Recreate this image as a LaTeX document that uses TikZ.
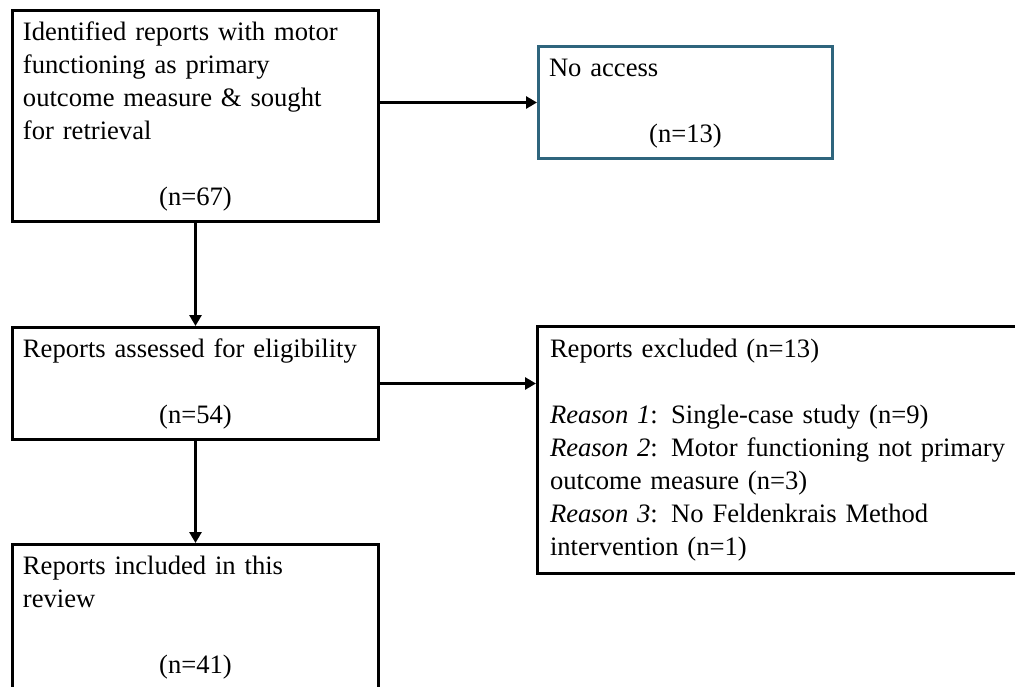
\documentclass[tikz,border=0pt]{standalone}
\usepackage{fontspec}
\setmainfont{Liberation Serif}
\usepackage{tikz}
\usetikzlibrary{arrows.meta}
\definecolor{accessteal}{RGB}{47,101,125}
\newcommand\boxfont{\fontsize{26.6}{33}\selectfont\spaceskip=6.6pt\relax\xspaceskip=6.6pt\relax}

\begin{document}
\begin{tikzpicture}[
    x=1pt, y=-1pt,
    box/.style={rectangle, draw=black, line width=3pt, anchor=north west, align=left,
        inner xsep=10.5pt, inner ysep=6.5pt, font=\boxfont},
    tealbox/.style={box, draw=accessteal},
    flow/.style={draw, line width=3pt, -{Triangle[length=11pt,width=12pt]}}
]

\useasboundingbox (0,0) rectangle (1015,687);
\clip (0,0) rectangle (1015,687);

% Define boxes
\node[box, text width=345pt] (identified) at (11,9) {\strut Identified reports with motor\\ functioning as primary\\ outcome measure \& sought\\ for retrieval\\[33pt] \hspace*{\fill}(n=67)\hspace*{\fill}\strut};
\node[tealbox, text width=273pt] (noaccess) at (537,45) {\strut No access\\[33pt] \hspace*{\fill}(n=13)\hspace*{\fill}\strut};
\node[box, text width=345pt] (assessed) at (11,326) {\strut Reports assessed for eligibility\\[33pt] \hspace*{\fill}(n=54)\hspace*{\fill}\strut};
\node[box, text width=470pt, inner xsep=12.5pt, inner ysep=8pt] (excluded) at (536,325) {\strut Reports excluded (n=13)\\[33pt] \textit{Reason 1}: Single-case study (n=9)\\ \textit{Reason 2}: Motor functioning not primary\\ outcome measure (n=3)\\ \textit{Reason 3}: No Feldenkrais Method\\ intervention (n=1)\strut};
\node[box, text width=345pt] (included) at (11,543) {\strut Reports included in this\\ review\\[33pt] \hspace*{\fill}(n=41)\hspace*{\fill}\rule[-30pt]{0pt}{1pt}};

% Define arrows
\draw[flow] (identified.east |- noaccess.west) -- (noaccess.west);
\draw[flow] (identified.south) -- (assessed.north);
\draw[flow] (assessed.east) -- (excluded.west |- assessed.east);
\draw[flow] (assessed.south) -- (included.north);

\end{tikzpicture}
\end{document}
